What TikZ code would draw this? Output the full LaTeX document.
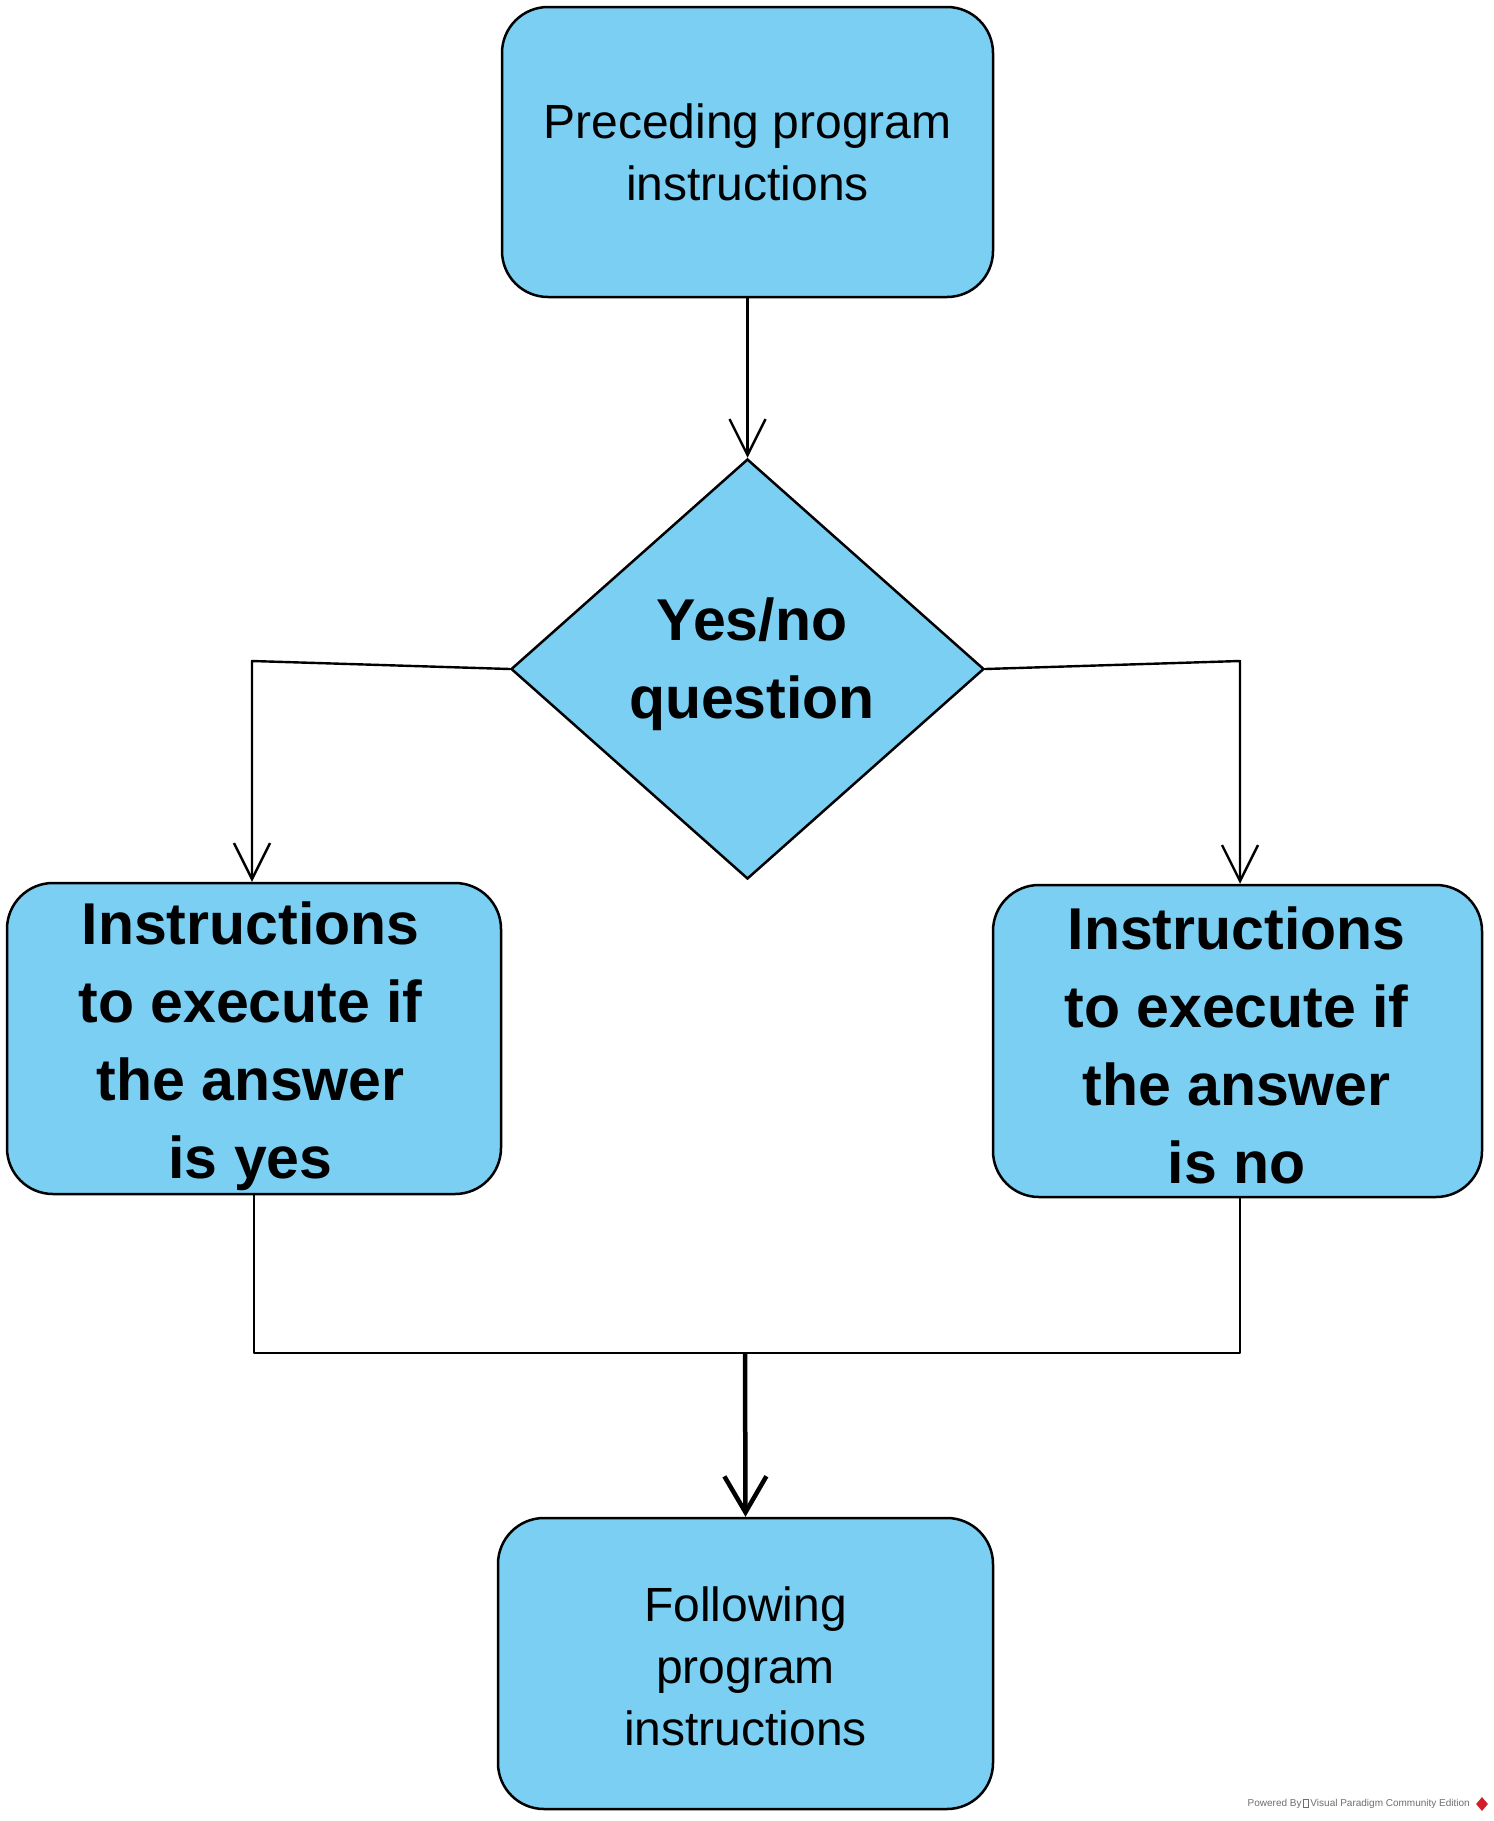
\documentclass[tikz,border=0pt]{standalone}
\usepackage{fontspec}
\setmainfont{Liberation Sans}
\usetikzlibrary{arrows.meta,shapes.geometric}
\definecolor{boxfill}{RGB}{123,207,243}
\definecolor{wmgray}{RGB}{110,110,110}
\definecolor{wmred}{RGB}{210,30,40}
\tikzset{
  procbox/.style={draw=black, line width=2.5pt, fill=boxfill, rounded corners=46pt, inner sep=0pt, align=center},
  normtext/.style={font=\fontsize{48}{62}\selectfont},
  boldtext/.style={font=\fontsize{59}{78}\selectfont\bfseries},
  conn/.style={draw=black, line width=2.4pt, line cap=round, line join=round},
  arr/.style={conn, -{Straight Barb[length=36pt,width=36pt]}},
  thickarr/.style={draw=black, line width=4.5pt, -{Straight Barb[length=36pt,width=42pt]}}
}
\begin{document}
\begin{tikzpicture}[x=1pt,y=-1pt]
\useasboundingbox[fill=white] (0,0) rectangle (1494,1821);
% boxes
\node[procbox, normtext, minimum width=491pt, minimum height=290pt] (tb) at (747.5,152) {Preceding program\\instructions};
\node[draw=black, line width=2.5pt, fill=boxfill, shape=diamond, minimum width=473pt, minimum height=420pt, inner sep=0pt] (dia) at (747.5,669) {};
\node[boldtext, align=center, inner sep=0pt] (dq) at (752,664) {Yes/no\\question};
\node[procbox, minimum width=494pt, minimum height=311pt,
  label={[boldtext, align=center, inner sep=0pt, xshift=-3.5pt, yshift=-8pt]center:{Instructions\\to execute if\\the answer\\is yes}}] (lb) at (254,1038.5) {};
\node[procbox, minimum width=489pt, minimum height=312pt,
  label={[boldtext, align=center, inner sep=0pt, xshift=-1pt, yshift=-4pt]center:{Instructions\\to execute if\\the answer\\is no}}] (rb) at (1237.5,1041) {};
\node[procbox, minimum width=495pt, minimum height=291pt,
  label={[normtext, align=center, inner sep=0pt, yshift=-2.5pt]center:{Following\\program\\instructions}}] (bb) at (745.5,1663.5) {};
% connector points
\coordinate (lc) at (252,661);
\coordinate (rc) at (1240,661);
\coordinate (jm) at (745,1353);
% connectors
\draw[arr] (tb.south) -- (dia.north);
\draw[arr] (dia.west) -- (lc) -- (lc |- lb.north);
\draw[arr] (dia.east) -- (rc) -- (rc |- rb.north);
\draw[conn] (lb.south) -- (lb.south |- jm) -- (rc |- jm) -- (rc |- rb.south);
\draw[thickarr] (jm) -- (bb.north);
% watermark
\node[font=\fontsize{10}{12}\selectfont, text=wmgray, anchor=east, inner sep=0pt] (wm) at (1470,1804) {Powered By\,\raisebox{-0.5pt}{\tikz\draw[line width=0.5pt] (0,0) rectangle (5pt,8pt);}\,Visual Paradigm Community Edition};
\node[fill=wmred, shape=diamond, minimum width=12pt, minimum height=14pt, inner sep=0pt] (logo) at (1482,1804) {};
\end{tikzpicture}
\end{document}
